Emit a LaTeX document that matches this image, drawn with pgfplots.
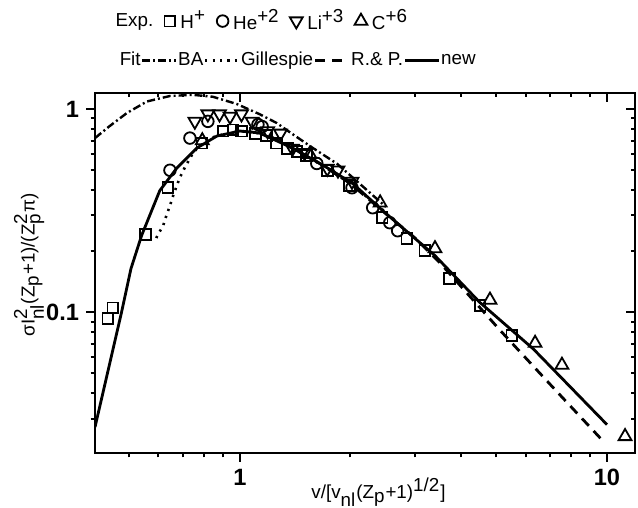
\documentclass[border=0pt]{standalone}
\usepackage{fontspec}
\setmainfont{Liberation Sans}
\usepackage{pgfplots}
\pgfplotsset{compat=1.18}

\newcommand\lf{\fontsize{9.4}{10}\selectfont}
\tikzset{
  sBA/.style={black, line width=1.2pt, dash pattern=on 4pt off 1.5pt on 1pt off 1.5pt},
  sGil/.style={black, line width=1.3pt, dash pattern=on 1.1pt off 2.6pt},
  sRP/.style={black, line width=1.4pt, dash pattern=on 5pt off 3.5pt},
  sNew/.style={black, line width=1.4pt, solid},
}

\begin{document}
\begin{tikzpicture}
\useasboundingbox (-47.5pt,-27.5pt) rectangle (271.5pt,226.5pt);
\begin{axis}[
  xmode=log, ymode=log,
  scale only axis, width=270pt, height=180pt,
  at={(0,0)}, anchor=south west,
  xmin=0.403, xmax=11.92, ymin=0.0203, ymax=1.2,
  xtick={1,10}, ytick={0.1,1},
  minor xtick={0.5,0.6,0.7,0.8,0.9,2,3,4,5,6,7,8,9},
  minor ytick={0.03,0.04,0.05,0.06,0.07,0.08,0.09,0.2,0.3,0.4,0.5,0.6,0.7,0.8,0.9},
  major tick length=4.5pt, minor tick length=2.2pt,
  every tick/.style={black, line width=1pt},
  axis line style={line width=1.2pt},
  xtick pos=left, ytick pos=left, tick align=outside,
  xticklabels={1,10}, yticklabels={0.1,1},
  tick label style={font=\fontsize{11.8}{12}\selectfont\bfseries},
  xlabel={v/[v$_{\textrm{nl}}$(Z$_{\textrm{p}}$+1)$^{\textrm{1/2}}$]},
  ylabel={σI$_{\textrm{nl}}^{\textrm{2}}$(Z$_{\textrm{p}}$+1)/(Z$_{\textrm{p}}^{\textrm{2}}$π)},
  label style={font=\lf},
  xlabel style={at={(axis description cs:0.525,0)}, anchor=north, inner sep=0pt, yshift=-12pt},
  ylabel style={at={(axis description cs:-0.122,0.522)}, anchor=center, inner sep=0pt},
  legend columns=-1,
  legend style={draw=none, fill=none, inner sep=0pt, anchor=south west,
    at={(axis description cs:0.029,1.164)},
    nodes={inner sep=0.3pt}, column sep=2pt},
  legend image code/.code={\path[draw=none] (0pt,0pt) (9pt,0pt);
    \draw[mark repeat=2,mark phase=2,#1] plot coordinates {(0pt,0pt)(6pt,0pt)(9pt,0pt)};},
]
\addlegendimage{empty legend}\addlegendentry{\lf Exp.}

% BA
\addplot[sBA, forget plot] coordinates {(0.403,0.72)(0.44,0.82)(0.492,0.956)(0.558,1.09)(0.645,1.16)(0.745,1.175)(0.844,1.15)(0.98,1.06)(1.13,0.945)(1.26,0.854)(1.39,0.754)(1.58,0.644)(1.84,0.538)(2.03,0.46)(2.5,0.33)};
% Gillespie
\addplot[sGil, forget plot] coordinates {(0.592,0.232)(0.598,0.241)(0.618,0.267)(0.631,0.30)(0.645,0.335)(0.658,0.375)(0.686,0.46)(0.708,0.516)(0.738,0.589)(0.762,0.637)(0.811,0.697)(0.85,0.73)(0.95,0.77)(1.05,0.78)(1.2,0.74)(1.4,0.64)(1.7,0.52)(2.0,0.43)(2.5,0.31)};
% R. & P.
\addplot[sRP, forget plot] coordinates {(1.2,0.74)(1.6,0.56)(2.0,0.43)(2.5,0.305)(3.0,0.232)(3.5,0.176)(5.1,0.082)(7.1,0.043)(9.7,0.0235)};
% new
\addplot[sNew, forget plot] coordinates {(0.403,0.0272)(0.476,0.100)(0.505,0.164)(0.540,0.239)(0.605,0.397)(0.674,0.514)(0.764,0.644)(0.866,0.737)(1.0,0.78)(1.13,0.763)(1.39,0.644)(1.73,0.514)(2.03,0.43)(2.45,0.316)(3.4,0.19)(4.5,0.112)(6.3,0.066)(10.0,0.028)};

% H+
\addplot[black, only marks, line width=0.9pt, mark=square, mark size=2.7pt] coordinates {(0.437,0.0935)(0.451,0.105)(0.554,0.241)(0.637,0.41)(0.788,0.68)(0.90,0.78)(0.957,0.79)(1.01,0.78)(1.10,0.76)(1.18,0.74)(1.26,0.68)(1.35,0.64)(1.43,0.62)(1.52,0.59)(1.73,0.50)(1.99,0.42)(2.44,0.292)(2.85,0.231)(3.19,0.201)(3.73,0.147)(4.51,0.108)(5.51,0.077)};
\addlegendentry{\lf H$^{\textrm{+}}$}
% He+2
\addplot[black, only marks, line width=0.9pt, mark=o, mark size=2.9pt] coordinates {(0.645,0.50)(0.731,0.72)(0.818,0.87)(1.12,0.84)(1.15,0.82)(1.62,0.54)(2.02,0.41)(2.30,0.327)(2.56,0.276)(2.69,0.252)};
\addlegendentry{\lf He$^{\textrm{+2}}$}
% Li+3
\addplot[black, only marks, line width=0.9pt, mark=triangle, mark size=3.7pt, mark options={rotate=180}] coordinates {(0.754,0.87)(0.818,0.945)(0.88,0.945)(0.94,0.92)(1.01,0.945)(1.08,0.87)(1.19,0.78)(1.29,0.76)(1.39,0.64)(1.50,0.61)(1.73,0.51)(1.85,0.50)(2.02,0.44)};
\addlegendentry{\lf Li$^{\textrm{+3}}$}
% C+6
\addplot[black, only marks, line width=0.9pt, mark=triangle, mark size=3.7pt] coordinates {(0.79,0.70)(1.55,0.60)(2.41,0.346)(3.40,0.206)(4.80,0.115)(6.37,0.0705)(7.54,0.055)(11.2,0.0245)};
\addlegendentry{\lf C$^{\textrm{+6}}$}
\end{axis}

\begin{axis}[
  xmode=log, ymode=log,
  scale only axis, width=270pt, height=180pt,
  at={(0,0)}, anchor=south west,
  xmin=0.403, xmax=11.92, ymin=0.0203, ymax=1.2,
  xtick={1,10}, ytick={0.1,1},
  minor xtick={0.5,0.6,0.7,0.8,0.9,2,3,4,5,6,7,8,9},
  minor ytick={0.03,0.04,0.05,0.06,0.07,0.08,0.09,0.2,0.3,0.4,0.5,0.6,0.7,0.8,0.9},
  major tick length=4.5pt, minor tick length=2.2pt,
  every tick/.style={black, line width=1pt},
  axis line style={line width=1.2pt},
  xtick pos=right, ytick pos=right, tick align=inside,
  xticklabels={}, yticklabels={},
  legend columns=-1,
  legend style={draw=none, fill=none, inner sep=0pt, anchor=south west,
    at={(axis description cs:0.044,1.064)},
    nodes={inner sep=0.3pt}, column sep=0pt},
  legend image code/.code={\draw[#1] (0pt,0pt) -- (17pt,0pt);},
]
\addlegendimage{empty legend}\addlegendentry{\lf Fit}
\addlegendimage{sBA}\addlegendentry{\lf BA}
\addlegendimage{sGil}\addlegendentry{\lf Gillespie}
\addlegendimage{sRP}\addlegendentry{\lf R.\& P.}
\addlegendimage{sNew}\addlegendentry{\lf new}
\end{axis}
\end{tikzpicture}
\end{document}
